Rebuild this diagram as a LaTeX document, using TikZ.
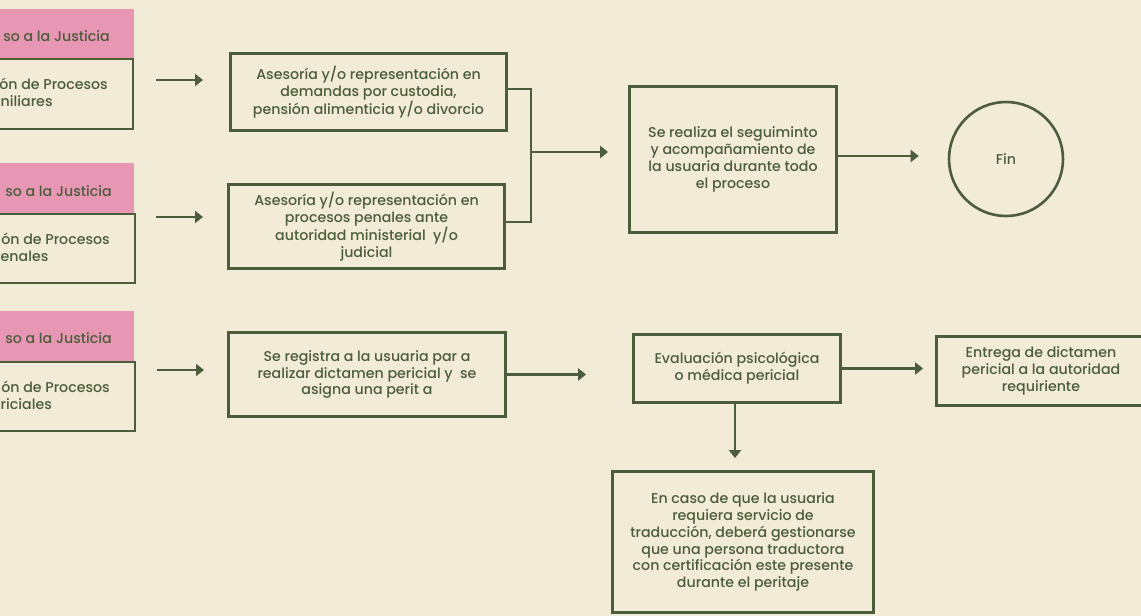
\documentclass[tikz,border=0pt]{standalone}
\usepackage{fontspec}
\IfFontExistsTF{Poppins Medium}
  {\setmainfont{Poppins Medium}}
  {\setmainfont{Poppins}[FakeBold=1]}
\usetikzlibrary{arrows.meta,calc}
\definecolor{paper}{HTML}{F2EBD7}
\definecolor{olive}{HTML}{4B5D3A}
\definecolor{rose}{HTML}{E796B3}

\begin{document}
\begin{tikzpicture}[x=1pt,y=-1pt,
  every node/.style={text=olive, font=\fontsize{14.2}{16.8}\selectfont},
  box/.style={draw=olive, line width=2.8pt, fill=paper, align=center, inner sep=0pt},
  frame/.style={draw=olive, line width=2.8pt, fill=paper},
  arr/.style={draw=olive, line width=2.8pt, -{Triangle[length=8pt,width=12pt]}},
  wire/.style={draw=olive, line width=2.8pt},
  cut/.style={anchor=base east, inner sep=0pt},
  edge text/.style={anchor=base west, inner sep=0pt}
]
% canvas
\fill[paper] (0,0) rectangle (1141,616);
\useasboundingbox (0,0) rectangle (1141,616);

% left column: service headers and their frames
\foreach \t/\b in {9/58, 163/213, 311/362}{
  \fill[rose] (-20,\t) rectangle (134,\b);
}
\draw[frame] (-20,59) rectangle (133,129);
\draw[frame] (-20,214) rectangle (135,283);
\draw[frame] (-20,362) rectangle (135,431);

\node[cut] (h1) at (110,41) {so a la Justicia};
\node[cut] (h2) at (112,196) {so a la Justicia};
\node[cut] (h3) at (112,343) {so a la Justicia};
\node[cut] (p1a) at (108,89) {ón de Procesos};
\node[edge text] (p1b) at (0.5,106) {niliares};
\node[cut] (p2a) at (110,244) {ón de Procesos};
\node[edge text] (p2b) at (0.5,261) {enales};
\node[cut] (p3a) at (110,392) {ón de Procesos};
\node[edge text] (p3b) at (0.5,409) {riciales};

% process boxes
\node[box, minimum width=276pt, minimum height=77pt] (A) at (368.5,92)
  {Asesoría y/o representación en\\demandas por custodia,\\pensión alimenticia y/o divorcio};
\node[box, minimum width=276pt, minimum height=84pt] (B) at (366.5,226.5)
  {Asesoría y/o representación en\\procesos penales ante\\autoridad ministerial\ \ y/o\\judicial};
\node[box, minimum width=207pt, minimum height=146pt] (C) at (733,159.5)
  {Se realiza el seguiminto\\y acompañamiento\ de\\la usuaria durante todo\\el proceso};
\node[draw=olive, line width=2.6pt, circle, minimum size=114pt, inner sep=0pt] (Fin) at (1006,159) {Fin};
\node[box, minimum width=277pt, minimum height=84pt] (D) at (367,374.5)
  {Se registra a la usuaria par a\\realizar dictamen pericial y\ \ se\\asigna una perit a};
\node[box, minimum width=207pt, minimum height=68pt] (E) at (737,368.5)
  {Evaluación psicológica\\o médica pericial};
\node[box, minimum width=209pt, minimum height=69pt] (F) at (1041,371)
  {Entrega de dictamen\\pericial a la autoridad\\requiriente};
\node[box, minimum width=261pt, minimum height=141pt] (G) at (743,542)
  {En caso de que la usuaria\\requiera servicio de\\traducción, deberá gestionarse\\que una persona traductora\\con certificación este presente\\durante el peritaje};

% free-standing arrows after the left frames
\coordinate (s1) at (156,80);  \coordinate (t1) at (203,80);
\coordinate (s2) at (156,217); \coordinate (t2) at (203,217);
\coordinate (s3) at (157,370); \coordinate (t3) at (204,370);
\draw[arr] (s1) -- (t1);
\draw[arr] (s2) -- (t2);
\draw[arr] (s3) -- (t3);

% merge of the two legal branches
\coordinate (m) at (531,152);
\draw[wire] ($(A.east)+(0,-3)$) -| (m);
\draw[wire] ($(B.east)+(0,-4.5)$) -| (m);
\draw[arr, shorten >=20pt] (m) -- (m -| C.west);

% flow arrows
\draw[arr, shorten >=29pt] ($(C.east)+(0,-3.5)$) -- ($(Fin.west)+(0,-3)$);
\draw[arr, shorten >=46pt] (D.east) -- (D.east -| E.west);
\draw[arr, shorten >=12pt] (E.east) -- (E.east -| F.west);
\draw[arr, shorten >=12pt] ($(E.south)+(-2,0)$) -- ($(E.south |- G.north)+(-2,0)$);
\end{tikzpicture}
\end{document}
